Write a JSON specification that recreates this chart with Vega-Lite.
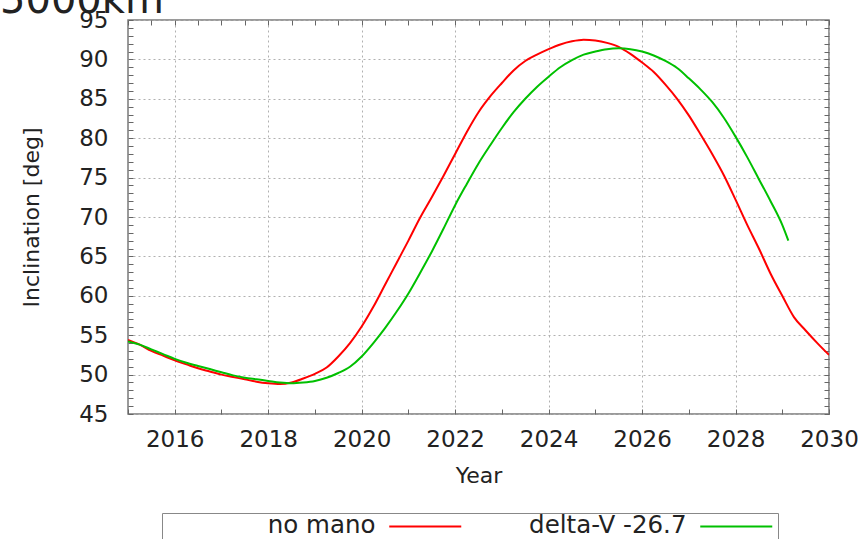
{
  "$schema": "https://vega.github.io/schema/vega-lite/v6.json",
  "width": 701,
  "height": 394,
  "autosize": {"type": "none"},
  "padding": {"left": 128, "top": 20, "right": 32, "bottom": 125},
  "background": "white",
  "config": {
    "view": {"stroke": "#7a7a7a", "strokeWidth": 1.5},
    "font": "DejaVu Sans",
    "axis": {
      "labelFont": "DejaVu Sans",
      "titleFont": "DejaVu Sans",
      "labelColor": "#222222",
      "titleColor": "#222222",
      "labelFontSize": 23,
      "titleFontSize": 22,
      "titleFontWeight": "normal",
      "tickColor": "#666666",
      "tickWidth": 1,
      "domain": false
    }
  },
  "title": {
    "text": "5000km",
    "anchor": "start",
    "frame": "group",
    "dx": -128,
    "dy": 12,
    "offset": 0,
    "fontSize": 40,
    "fontWeight": "normal",
    "font": "DejaVu Sans",
    "color": "#222222"
  },
  "datasets": {
    "curves": [
      {"year": 2015.0, "value": 54.4, "series": "no mano"},
      {"year": 2015.25, "value": 53.8, "series": "no mano"},
      {"year": 2015.5, "value": 53.0, "series": "no mano"},
      {"year": 2015.75, "value": 52.4, "series": "no mano"},
      {"year": 2016.0, "value": 51.8, "series": "no mano"},
      {"year": 2016.25, "value": 51.3, "series": "no mano"},
      {"year": 2016.5, "value": 50.8, "series": "no mano"},
      {"year": 2016.75, "value": 50.4, "series": "no mano"},
      {"year": 2017.0, "value": 50.0, "series": "no mano"},
      {"year": 2017.25, "value": 49.7, "series": "no mano"},
      {"year": 2017.5, "value": 49.4, "series": "no mano"},
      {"year": 2017.75, "value": 49.1, "series": "no mano"},
      {"year": 2018.0, "value": 48.9, "series": "no mano"},
      {"year": 2018.25, "value": 48.8, "series": "no mano"},
      {"year": 2018.5, "value": 49.0, "series": "no mano"},
      {"year": 2018.75, "value": 49.5, "series": "no mano"},
      {"year": 2019.0, "value": 50.1, "series": "no mano"},
      {"year": 2019.25, "value": 50.9, "series": "no mano"},
      {"year": 2019.5, "value": 52.3, "series": "no mano"},
      {"year": 2019.75, "value": 54.0, "series": "no mano"},
      {"year": 2020.0, "value": 56.1, "series": "no mano"},
      {"year": 2020.25, "value": 58.6, "series": "no mano"},
      {"year": 2020.5, "value": 61.4, "series": "no mano"},
      {"year": 2020.75, "value": 64.2, "series": "no mano"},
      {"year": 2021.0, "value": 67.0, "series": "no mano"},
      {"year": 2021.25, "value": 69.9, "series": "no mano"},
      {"year": 2021.5, "value": 72.5, "series": "no mano"},
      {"year": 2021.75, "value": 75.2, "series": "no mano"},
      {"year": 2022.0, "value": 78.0, "series": "no mano"},
      {"year": 2022.25, "value": 80.8, "series": "no mano"},
      {"year": 2022.5, "value": 83.3, "series": "no mano"},
      {"year": 2022.75, "value": 85.3, "series": "no mano"},
      {"year": 2023.0, "value": 87.0, "series": "no mano"},
      {"year": 2023.25, "value": 88.6, "series": "no mano"},
      {"year": 2023.5, "value": 89.8, "series": "no mano"},
      {"year": 2023.75, "value": 90.6, "series": "no mano"},
      {"year": 2024.0, "value": 91.3, "series": "no mano"},
      {"year": 2024.25, "value": 91.9, "series": "no mano"},
      {"year": 2024.5, "value": 92.3, "series": "no mano"},
      {"year": 2024.75, "value": 92.5, "series": "no mano"},
      {"year": 2025.0, "value": 92.4, "series": "no mano"},
      {"year": 2025.25, "value": 92.1, "series": "no mano"},
      {"year": 2025.5, "value": 91.6, "series": "no mano"},
      {"year": 2025.75, "value": 90.7, "series": "no mano"},
      {"year": 2026.0, "value": 89.6, "series": "no mano"},
      {"year": 2026.25, "value": 88.4, "series": "no mano"},
      {"year": 2026.5, "value": 86.8, "series": "no mano"},
      {"year": 2026.75, "value": 85.0, "series": "no mano"},
      {"year": 2027.0, "value": 82.9, "series": "no mano"},
      {"year": 2027.25, "value": 80.5, "series": "no mano"},
      {"year": 2027.5, "value": 78.0, "series": "no mano"},
      {"year": 2027.75, "value": 75.3, "series": "no mano"},
      {"year": 2028.0, "value": 72.2, "series": "no mano"},
      {"year": 2028.25, "value": 69.0, "series": "no mano"},
      {"year": 2028.5, "value": 66.0, "series": "no mano"},
      {"year": 2028.75, "value": 62.8, "series": "no mano"},
      {"year": 2029.0, "value": 60.0, "series": "no mano"},
      {"year": 2029.25, "value": 57.3, "series": "no mano"},
      {"year": 2029.5, "value": 55.6, "series": "no mano"},
      {"year": 2029.75, "value": 54.0, "series": "no mano"},
      {"year": 2030.0, "value": 52.5, "series": "no mano"},
      {"year": 2015.0, "value": 54.2, "series": "delta-V -26.7"},
      {"year": 2015.25, "value": 53.8, "series": "delta-V -26.7"},
      {"year": 2015.5, "value": 53.2, "series": "delta-V -26.7"},
      {"year": 2015.75, "value": 52.6, "series": "delta-V -26.7"},
      {"year": 2016.0, "value": 52.0, "series": "delta-V -26.7"},
      {"year": 2016.25, "value": 51.5, "series": "delta-V -26.7"},
      {"year": 2016.5, "value": 51.1, "series": "delta-V -26.7"},
      {"year": 2016.75, "value": 50.7, "series": "delta-V -26.7"},
      {"year": 2017.0, "value": 50.3, "series": "delta-V -26.7"},
      {"year": 2017.25, "value": 49.9, "series": "delta-V -26.7"},
      {"year": 2017.5, "value": 49.6, "series": "delta-V -26.7"},
      {"year": 2017.75, "value": 49.4, "series": "delta-V -26.7"},
      {"year": 2018.0, "value": 49.2, "series": "delta-V -26.7"},
      {"year": 2018.25, "value": 49.0, "series": "delta-V -26.7"},
      {"year": 2018.5, "value": 48.9, "series": "delta-V -26.7"},
      {"year": 2018.75, "value": 49.0, "series": "delta-V -26.7"},
      {"year": 2019.0, "value": 49.2, "series": "delta-V -26.7"},
      {"year": 2019.25, "value": 49.6, "series": "delta-V -26.7"},
      {"year": 2019.5, "value": 50.2, "series": "delta-V -26.7"},
      {"year": 2019.75, "value": 51.0, "series": "delta-V -26.7"},
      {"year": 2020.0, "value": 52.3, "series": "delta-V -26.7"},
      {"year": 2020.25, "value": 54.0, "series": "delta-V -26.7"},
      {"year": 2020.5, "value": 55.9, "series": "delta-V -26.7"},
      {"year": 2020.75, "value": 58.0, "series": "delta-V -26.7"},
      {"year": 2021.0, "value": 60.3, "series": "delta-V -26.7"},
      {"year": 2021.25, "value": 62.9, "series": "delta-V -26.7"},
      {"year": 2021.5, "value": 65.6, "series": "delta-V -26.7"},
      {"year": 2021.75, "value": 68.5, "series": "delta-V -26.7"},
      {"year": 2022.0, "value": 71.5, "series": "delta-V -26.7"},
      {"year": 2022.25, "value": 74.2, "series": "delta-V -26.7"},
      {"year": 2022.5, "value": 76.8, "series": "delta-V -26.7"},
      {"year": 2022.75, "value": 79.1, "series": "delta-V -26.7"},
      {"year": 2023.0, "value": 81.3, "series": "delta-V -26.7"},
      {"year": 2023.25, "value": 83.3, "series": "delta-V -26.7"},
      {"year": 2023.5, "value": 85.0, "series": "delta-V -26.7"},
      {"year": 2023.75, "value": 86.5, "series": "delta-V -26.7"},
      {"year": 2024.0, "value": 87.8, "series": "delta-V -26.7"},
      {"year": 2024.25, "value": 89.0, "series": "delta-V -26.7"},
      {"year": 2024.5, "value": 89.9, "series": "delta-V -26.7"},
      {"year": 2024.75, "value": 90.6, "series": "delta-V -26.7"},
      {"year": 2025.0, "value": 91.0, "series": "delta-V -26.7"},
      {"year": 2025.25, "value": 91.3, "series": "delta-V -26.7"},
      {"year": 2025.5, "value": 91.4, "series": "delta-V -26.7"},
      {"year": 2025.75, "value": 91.3, "series": "delta-V -26.7"},
      {"year": 2026.0, "value": 91.0, "series": "delta-V -26.7"},
      {"year": 2026.25, "value": 90.5, "series": "delta-V -26.7"},
      {"year": 2026.5, "value": 89.8, "series": "delta-V -26.7"},
      {"year": 2026.75, "value": 88.9, "series": "delta-V -26.7"},
      {"year": 2027.0, "value": 87.6, "series": "delta-V -26.7"},
      {"year": 2027.25, "value": 86.2, "series": "delta-V -26.7"},
      {"year": 2027.5, "value": 84.6, "series": "delta-V -26.7"},
      {"year": 2027.75, "value": 82.6, "series": "delta-V -26.7"},
      {"year": 2028.0, "value": 80.2, "series": "delta-V -26.7"},
      {"year": 2028.25, "value": 77.6, "series": "delta-V -26.7"},
      {"year": 2028.5, "value": 74.8, "series": "delta-V -26.7"},
      {"year": 2028.75, "value": 72.0, "series": "delta-V -26.7"},
      {"year": 2029.0, "value": 69.0, "series": "delta-V -26.7"},
      {"year": 2029.13, "value": 67.0, "series": "delta-V -26.7"}
    ]
  },
  "data": {"name": "curves"},
  "layer": [
    {
      "mark": {"type": "line", "strokeWidth": 2, "interpolate": "monotone", "clip": true},
      "encoding": {
        "x": {
          "field": "year",
          "type": "quantitative",
          "scale": {"domain": [2015, 2030], "nice": false, "zero": false},
          "axis": {
            "orient": "bottom",
            "values": [2015, 2015.5, 2016, 2016.5, 2017, 2017.5, 2018, 2018.5, 2019, 2019.5, 2020, 2020.5, 2021, 2021.5, 2022, 2022.5, 2023, 2023.5, 2024, 2024.5, 2025, 2025.5, 2026, 2026.5, 2027, 2027.5, 2028, 2028.5, 2029, 2029.5, 2030],
            "format": "d",
            "labelExpr": "datum.value % 2 == 0 ? datum.label : ''",
            "labelFlush": false,
            "labelOverlap": false,
            "grid": true,
            "gridDash": [2, 3],
            "gridColor": "#b0b0b0",
            "gridOpacity": {"condition": {"test": "datum.value % 2 == 0", "value": 1}, "value": 0},
            "tickSize": -5,
            "labelPadding": 19,
            "title": "Year",
            "titlePadding": 14
          }
        },
        "y": {
          "field": "value",
          "type": "quantitative",
          "scale": {"domain": [45, 95], "nice": false, "zero": false},
          "axis": {
            "orient": "left",
            "values": [45, 46, 47, 48, 49, 50, 51, 52, 53, 54, 55, 56, 57, 58, 59, 60, 61, 62, 63, 64, 65, 66, 67, 68, 69, 70, 71, 72, 73, 74, 75, 76, 77, 78, 79, 80, 81, 82, 83, 84, 85, 86, 87, 88, 89, 90, 91, 92, 93, 94, 95],
            "labelExpr": "datum.value % 5 == 0 ? datum.label : ''",
            "labelOverlap": false,
            "labelFlush": false,
            "grid": true,
            "gridDash": [2, 3],
            "gridColor": "#b0b0b0",
            "gridOpacity": {"condition": {"test": "datum.value % 5 == 0", "value": 1}, "value": 0},
            "tickSize": -5,
            "labelPadding": 25,
            "title": "Inclination [deg]",
            "titlePadding": 35
          }
        },
        "color": {
          "field": "series",
          "type": "nominal",
          "scale": {"domain": ["no mano", "delta-V -26.7"], "range": ["#ff0000", "#00c000"]},
          "legend": {
            "orient": "none",
            "legendX": 34,
            "legendY": 493,
            "direction": "horizontal",
            "title": null,
            "symbolType": "M-4.5,0H4.5",
            "symbolSize": 256,
            "symbolStrokeWidth": 2,
            "symbolOffset": 250,
            "labelFontSize": 24.5,
            "labelFont": "DejaVu Sans",
            "labelColor": "#222222",
            "labelAlign": "right",
            "labelOffset": -62,
            "labelLimit": 400,
            "columnPadding": 8,
            "strokeColor": "#888888",
            "padding": 1
          }
        }
      }
    },
    {
      "mark": {"type": "line", "opacity": 0},
      "encoding": {
        "x": {
          "field": "year",
          "type": "quantitative",
          "axis": {
            "orient": "top",
            "values": [2015, 2015.5, 2016, 2016.5, 2017, 2017.5, 2018, 2018.5, 2019, 2019.5, 2020, 2020.5, 2021, 2021.5, 2022, 2022.5, 2023, 2023.5, 2024, 2024.5, 2025, 2025.5, 2026, 2026.5, 2027, 2027.5, 2028, 2028.5, 2029, 2029.5, 2030],
            "labels": false,
            "grid": false,
            "title": null,
            "tickSize": -5
          }
        },
        "y": {
          "field": "value",
          "type": "quantitative",
          "axis": {
            "orient": "right",
            "values": [45, 46, 47, 48, 49, 50, 51, 52, 53, 54, 55, 56, 57, 58, 59, 60, 61, 62, 63, 64, 65, 66, 67, 68, 69, 70, 71, 72, 73, 74, 75, 76, 77, 78, 79, 80, 81, 82, 83, 84, 85, 86, 87, 88, 89, 90, 91, 92, 93, 94, 95],
            "labels": false,
            "grid": false,
            "title": null,
            "tickSize": -5
          }
        }
      }
    }
  ],
  "resolve": {"axis": {"x": "independent", "y": "independent"}}
}
